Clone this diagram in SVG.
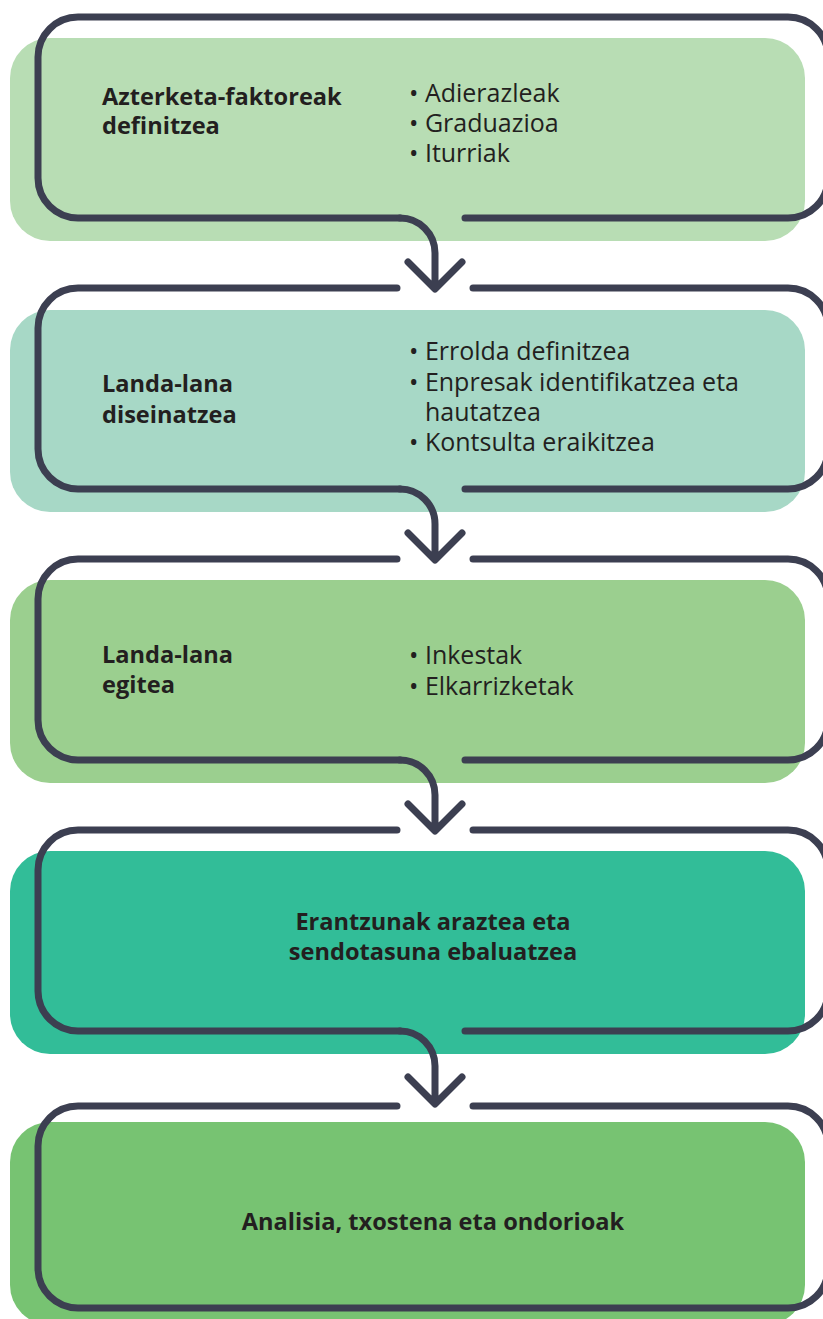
<svg xmlns="http://www.w3.org/2000/svg" width="823" height="1319" viewBox="0 0 823 1319">
<style>
.ol{fill:none;stroke:#3c3f51;stroke-width:7;stroke-linecap:round;stroke-linejoin:round}
.h{font-family:"Open Sans","Liberation Sans",sans-serif;font-weight:700;font-size:23.6px;fill:#231f20}
.b{font-family:"Open Sans","Liberation Sans",sans-serif;font-weight:400;font-size:25px;fill:#231f20}
.c{text-anchor:middle}
</style>
<rect width="823" height="1319" fill="#ffffff"/>
<g id="node1">
<rect x="10" y="38" width="795" height="203" rx="40" fill="#b8ddb4"/>
<path class="ol" d="M465 218H788A40 40 0 0 0 828 178V57A40 40 0 0 0 788 17H78A40 40 0 0 0 38 57V178A40 40 0 0 0 78 218H400"/>
<text class="h"><tspan x="102" y="105">Azterketa-faktoreak</tspan><tspan x="102" y="134">definitzea</tspan></text>
<text class="b"><tspan x="409" y="102">• Adierazleak</tspan><tspan x="409" y="132">• Graduazioa</tspan><tspan x="409" y="162">• Iturriak</tspan></text>
</g>
<g id="node2">
<rect x="10" y="310" width="795" height="202" rx="40" fill="#a7d8c6"/>
<path class="ol" d="M397 288H78A40 40 0 0 0 38 328V449A40 40 0 0 0 78 489H400"/>
<path class="ol" d="M473 288H788A40 40 0 0 1 828 328V449A40 40 0 0 1 788 489H465"/>
<text class="h"><tspan x="102" y="392">Landa-lana</tspan><tspan x="102" y="423">diseinatzea</tspan></text>
<text class="b"><tspan x="409" y="360">• Errolda definitzea</tspan><tspan x="409" y="391">• Enpresak identifikatzea eta</tspan><tspan x="425" y="421">hautatzea</tspan><tspan x="409" y="451">• Kontsulta eraikitzea</tspan></text>
</g>
<g id="node3">
<rect x="10" y="580" width="795" height="203" rx="40" fill="#9bcf8f"/>
<path class="ol" d="M397 559H78A40 40 0 0 0 38 599V720A40 40 0 0 0 78 760H400"/>
<path class="ol" d="M473 559H788A40 40 0 0 1 828 599V720A40 40 0 0 1 788 760H465"/>
<text class="h"><tspan x="102" y="663">Landa-lana</tspan><tspan x="102" y="693">egitea</tspan></text>
<text class="b"><tspan x="409" y="664">• Inkestak</tspan><tspan x="409" y="695">• Elkarrizketak</tspan></text>
</g>
<g id="node4">
<rect x="10" y="851" width="795" height="203" rx="40" fill="#32bd98"/>
<path class="ol" d="M397 830H78A40 40 0 0 0 38 870V991A40 40 0 0 0 78 1031H400"/>
<path class="ol" d="M473 830H788A40 40 0 0 1 828 870V991A40 40 0 0 1 788 1031H465"/>
<text class="h c"><tspan x="433" y="930">Erantzunak araztea eta</tspan><tspan x="433" y="960">sendotasuna ebaluatzea</tspan></text>
</g>
<g id="node5">
<rect x="10" y="1122" width="795" height="203" rx="40" fill="#77c372"/>
<path class="ol" d="M397 1106H78A40 40 0 0 0 38 1146V1268A40 40 0 0 0 78 1308H788A40 40 0 0 0 828 1268V1146A40 40 0 0 0 788 1106H473"/>
<text class="h c" x="433" y="1230">Analisia, txostena eta ondorioak</text>
</g>
<g id="connectors">
<path class="ol" d="M400 218A35 35 0 0 1 435 253V288M408 262L435 289L462 262"/>
<path class="ol" d="M400 489A35 35 0 0 1 435 524V559M408 533L435 560L462 533"/>
<path class="ol" d="M400 760A35 35 0 0 1 435 795V830M408 804L435 831L462 804"/>
<path class="ol" d="M400 1031A35 35 0 0 1 435 1066V1103M408 1077L435 1104L462 1077"/>
</g>
</svg>
